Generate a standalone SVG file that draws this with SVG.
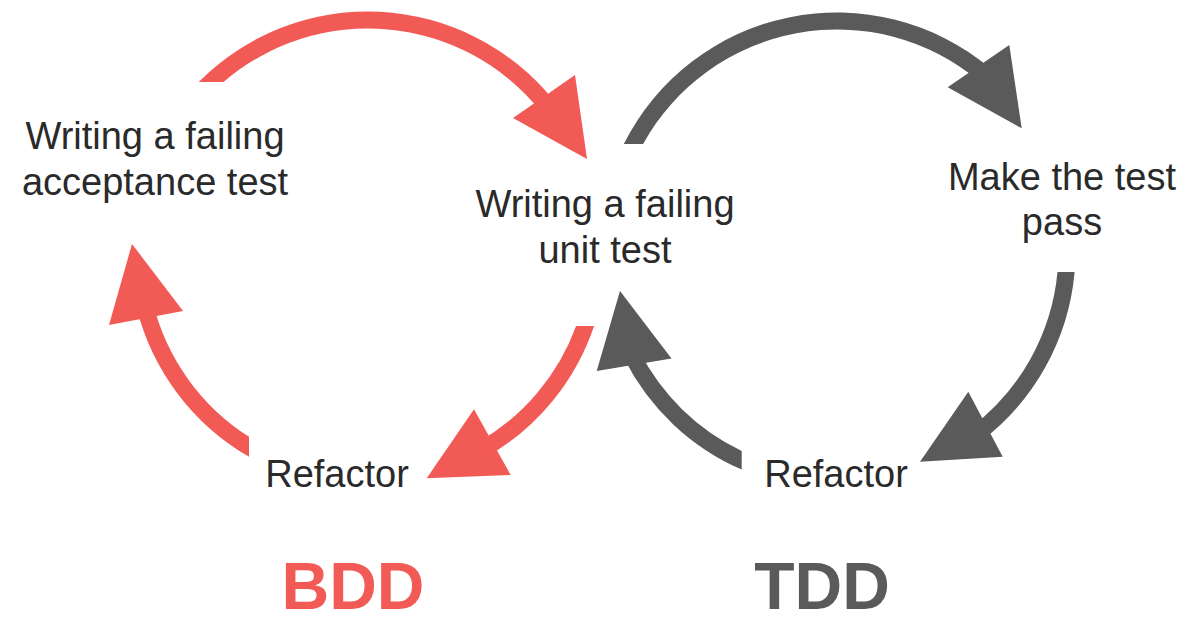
<svg xmlns="http://www.w3.org/2000/svg" width="1183" height="623" viewBox="0 0 1183 623">
  <style>
    .lbl { font-family: "Liberation Sans", Arial, sans-serif; font-size: 38px; fill: #2a2a2a; text-anchor: middle; }
    .big { font-family: "Liberation Sans", Arial, sans-serif; font-size: 66px; font-weight: bold; text-anchor: middle; }
    .red { fill: #f25a55; }
    .gray { fill: #5a5a5a; }
  </style>
  <rect width="1183" height="623" fill="#ffffff"/>

  <g id="connectors">
    <g id="bdd-acceptance-to-unit">
      <path class="red" d="M198.7,82 A238.5,238.5 0 0 1 553.3,99.9 L540.1,110.6 A221.5,221.5 0 0 0 223.6,82 Z"/>
      <polygon class="red" points="513,118 575,75 587,159"/>
    </g>
    <g id="bdd-unit-to-refactor">
      <path class="red" d="M594.1,326 A238.5,238.5 0 0 1 487.25,456.5 L478.75,441.8 A221.5,221.5 0 0 0 576.1,326 Z"/>
      <polygon class="red" points="474,409.3 510.7,475 426.7,478.3"/>
    </g>
    <g id="bdd-refactor-to-acceptance">
      <path class="red" d="M249,456.7 A238.5,238.5 0 0 1 136.6,307.7 L153.1,303.6 A221.5,221.5 0 0 0 249,436.8 Z"/>
      <polygon class="red" points="109,325 183,311 132,244"/>
    </g>
    <g id="tdd-unit-to-pass">
      <path class="gray" d="M623.8,144 A238.5,238.5 0 0 1 990.3,68.3 L979.4,81.3 A221.5,221.5 0 0 0 643.1,144 Z"/>
      <polygon class="gray" points="947.7,87.3 1009.3,45 1021.7,128.3"/>
    </g>
    <g id="tdd-pass-to-refactor">
      <path class="gray" d="M1074.6,272 A238.5,238.5 0 0 1 980.5,441.5 L970.3,427.9 A221.5,221.5 0 0 0 1057.5,272 Z"/>
      <polygon class="gray" points="968.3,391.7 1002.7,456.7 920,461.7"/>
    </g>
    <g id="tdd-refactor-to-unit">
      <path class="gray" d="M741.7,469.6 A238.5,238.5 0 0 1 624.5,359.3 L639.6,351.6 A221.5,221.5 0 0 0 741.7,450.9 Z"/>
      <polygon class="gray" points="596.7,371 671.5,358.5 620,291"/>
    </g>
  </g>

  <g id="node-acceptance">
    <text class="lbl" x="155" y="149">Writing a failing</text>
    <text class="lbl" x="155" y="195">acceptance test</text>
  </g>
  <g id="node-unit">
    <text class="lbl" x="605" y="217">Writing a failing</text>
    <text class="lbl" x="605" y="263">unit test</text>
  </g>
  <g id="node-pass">
    <text class="lbl" x="1062" y="190">Make the test</text>
    <text class="lbl" x="1062" y="235">pass</text>
  </g>
  <g id="node-refactor-bdd">
    <text class="lbl" x="337" y="487">Refactor</text>
  </g>
  <g id="node-refactor-tdd">
    <text class="lbl" x="836" y="487">Refactor</text>
  </g>
  <g id="label-bdd">
    <text class="big red" x="353" y="609">BDD</text>
  </g>
  <g id="label-tdd">
    <text class="big gray" x="822" y="609">TDD</text>
  </g>
</svg>
